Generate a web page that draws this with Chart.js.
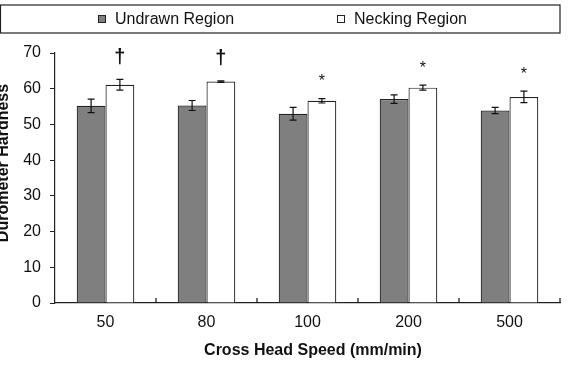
<!DOCTYPE html>
<html>
<head>
<meta charset="utf-8">
<script src="https://cdn.jsdelivr.net/npm/chart.js"></script>
<style>
  html, body { margin: 0; padding: 0; background: #fff; }
  #wrap { width: 573px; height: 368px; }
</style>
</head>
<body>
<div id="wrap"><canvas id="chart" width="573" height="368"></canvas></div>
<script>
const speeds = ['50', '80', '100', '200', '500'];
const undrawn = [55.2, 55.3, 53.0, 57.1, 53.9];
const undrawnErr = [1.9, 1.4, 1.8, 1.2, 0.9];
const necking = [61.1, 62.0, 56.6, 60.3, 57.7];
const neckingErr = [1.5, 0.2, 0.6, 0.7, 1.6];
const marks = ['†', '†', '*', '*', '*'];
const yTicks = [0, 10, 20, 30, 40, 50, 60, 70];

const FONT = "'Liberation Sans', Arial, sans-serif";

// error bars, significance marks, inward x ticks, legend and titles
const extras = {
  id: 'extras',
  afterDatasetsDraw(chart) {
    const ctx = chart.ctx;
    const y = chart.scales.y;
    const errs = [undrawnErr, neckingErr];
    ctx.save();
    ctx.strokeStyle = '#111';
    ctx.lineWidth = 1.2;
    chart.data.datasets.forEach((ds, di) => {
      const meta = chart.getDatasetMeta(di);
      meta.data.forEach((bar, i) => {
        const v = ds.data[i];
        const e = errs[di][i];
        const yt = y.getPixelForValue(v + e);
        const yb = y.getPixelForValue(v - e);
        ctx.beginPath();
        ctx.moveTo(bar.x, yt); ctx.lineTo(bar.x, yb);
        ctx.moveTo(bar.x - 3.5, yt); ctx.lineTo(bar.x + 3.5, yt);
        ctx.moveTo(bar.x - 3.5, yb); ctx.lineTo(bar.x + 3.5, yb);
        ctx.stroke();
      });
    });

    // marks above necking bars
    const nMeta = chart.getDatasetMeta(1);
    ctx.fillStyle = '#111';
    ctx.textAlign = 'center';
    ctx.textBaseline = 'middle';
    nMeta.data.forEach((bar, i) => {
      const top = y.getPixelForValue(necking[i] + neckingErr[i]);
      if (marks[i] === '†') {
        ctx.font = 'bold 20px ' + FONT;
        ctx.fillText(marks[i], bar.x, top - 22);
      } else {
        ctx.font = '16px ' + FONT;
        ctx.fillText(marks[i], bar.x, top - 17);
      }
    });

    // small upward ticks between categories
    const x = chart.scales.x;
    const base = y.getPixelForValue(0);
    const step = x.getPixelForValue(1) - x.getPixelForValue(0);
    ctx.lineWidth = 1.2;
    ctx.beginPath();
    for (let i = 0; i < speeds.length; i++) {
      const px = Math.round(x.getPixelForValue(i) + step / 2);
      ctx.moveTo(px, base); ctx.lineTo(px, base - 5);
    }
    ctx.stroke();
    ctx.restore();
  },
  afterDraw(chart) {
    const ctx = chart.ctx;
    const area = chart.chartArea;
    ctx.save();
    // legend frame
    ctx.strokeStyle = '#222';
    ctx.lineWidth = 1.2;
    ctx.strokeRect(0.5, 5, area.right - 0.5, 28);
    ctx.font = '16px ' + FONT;
    ctx.textBaseline = 'middle';
    ctx.textAlign = 'left';
    const items = [
      { x: 98, label: chart.data.datasets[0].label, fill: '#7f7f7f' },
      { x: 337, label: chart.data.datasets[1].label, fill: '#fff' }
    ];
    items.forEach(it => {
      ctx.fillStyle = it.fill;
      ctx.fillRect(it.x, 15, 8, 8);
      ctx.strokeStyle = '#222';
      ctx.lineWidth = 1;
      ctx.strokeRect(it.x + 0.5, 15.5, 7, 7);
      ctx.fillStyle = '#111';
      ctx.fillText(it.label, it.x + 17, 20);
    });
    // x title
    ctx.textAlign = 'center';
    ctx.font = 'bold 16px ' + FONT;
    ctx.fillText('Cross Head Speed (mm/min)', 313, 351);
    // y title, partly cut off at the left edge as in the source
    ctx.translate(8, 163);
    ctx.rotate(-Math.PI / 2);
    ctx.textBaseline = 'alphabetic';
    ctx.fillText('Durometer Hardness', 0, 0);
    ctx.restore();
  }
};

new Chart(document.getElementById('chart').getContext('2d'), {
  type: 'bar',
  data: {
    labels: speeds,
    datasets: [
      {
        label: 'Undrawn Region',
        data: undrawn,
        backgroundColor: '#7f7f7f',
        borderColor: '#222',
        borderWidth: 1.2,
        categoryPercentage: 0.57,
        barPercentage: 1.0
      },
      {
        label: 'Necking Region',
        data: necking,
        backgroundColor: '#ffffff',
        borderColor: '#222',
        borderWidth: 1.2,
        categoryPercentage: 0.57,
        barPercentage: 1.0
      }
    ]
  },
  options: {
    responsive: false,
    animation: false,
    layout: { padding: { top: 53, right: 13, left: 0, bottom: 0 } },
    plugins: {
      legend: { display: false },
      tooltip: { enabled: false }
    },
    scales: {
      x: {
        afterFit(scale) { scale.height = 65; },
        grid: { display: false, drawTicks: false },
        border: { color: '#222', width: 1.2 },
        ticks: { color: '#111', font: { family: FONT, size: 16 }, padding: 10 }
      },
      y: {
        min: 0,
        max: 70,
        afterFit(scale) { scale.width = 55; },
        afterBuildTicks(scale) { scale.ticks = yTicks.map(v => ({ value: v })); },
        grid: { drawOnChartArea: false, drawTicks: true, tickLength: 5, color: '#222' },
        border: { color: '#222', width: 1.2 },
        ticks: { color: '#111', font: { family: FONT, size: 16 }, padding: 9 }
      }
    }
  },
  plugins: [extras]
});
</script>
</body>
</html>
